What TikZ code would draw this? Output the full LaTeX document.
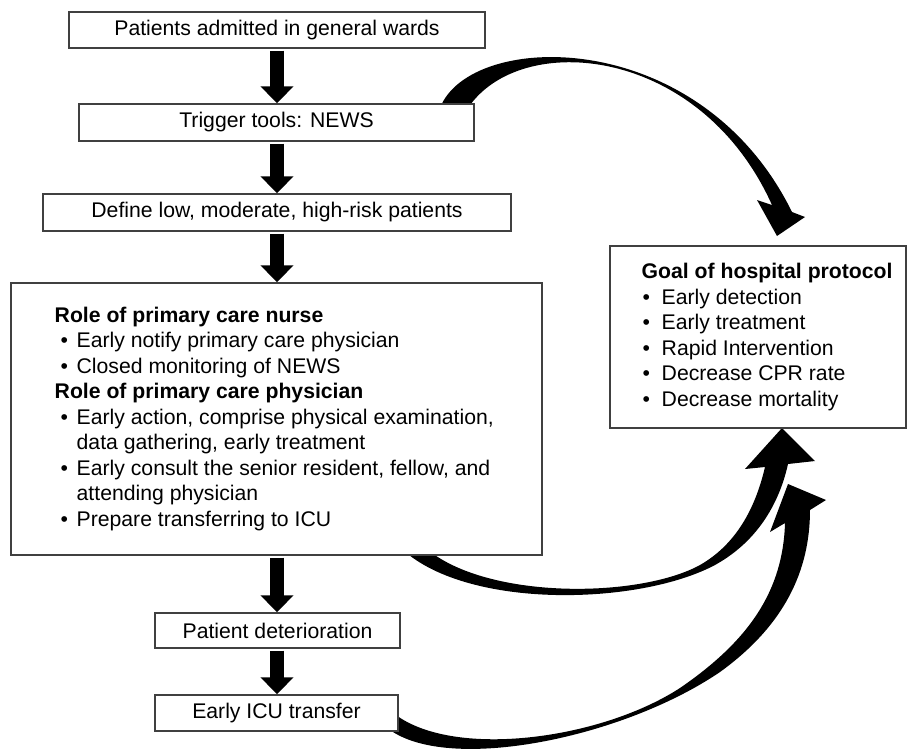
\documentclass[tikz,border=0pt]{standalone}
\usepackage{fontspec}
\setmainfont{Liberation Sans}
\usetikzlibrary{arrows.meta}
\newcommand\bul{\makebox[11pt][l]{\hspace{3pt}\textbullet}}
\newcommand\gbul{\makebox[10pt][l]{\hspace{0.5pt}\textbullet}}
\begin{document}
\begin{tikzpicture}[x=0.5pt,y=-0.5pt,
  box/.style={draw=black!75, line width=0.7pt, fill=white, inner sep=0pt},
  blockarrow/.style={line width=7pt, -{Triangle[width=16pt,length=8.5pt]}, shorten <=1pt},
  curvearrow/.style={fill=black, draw=none},
  txt/.style={anchor=west, inner sep=0pt, align=left},
  every node/.style={font=\fontsize{10.6}{12.75}\selectfont}
]
\useasboundingbox (0,0) rectangle (912,756);
\fill[white] (0,0) rectangle (912,756);

% curved arrows (drawn first so the boxes cover their roots)
\fill[curvearrow] (440,108) .. controls (470,30) and (700,25) .. (792,212)
  -- (805,217) -- (777,236) -- (757,200) -- (772,205)
  .. controls (700,45) and (520,30) .. (468,108) -- cycle;
\fill[curvearrow] (403,550) .. controls (470,610) and (640,605) .. (715,565)
  .. controls (760,540) and (780,500) .. (788,464)
  -- (815,461) -- (782,428) -- (745,469) -- (765,467)
  .. controls (755,510) and (735,545) .. (700,565)
  .. controls (640,598) and (490,600) .. (428,550) -- cycle;
\fill[curvearrow] (385,726) .. controls (440,775) and (620,740) .. (720,672)
  .. controls (785,625) and (810,570) .. (810,510)
  -- (826,500) -- (788,484) -- (770,532) -- (785,523)
  .. controls (783,590) and (750,640) .. (680,688)
  .. controls (600,740) and (450,760) .. (392,712) -- cycle;

% boxes
\node[box, minimum width=208pt, minimum height=18pt] (b1) at (277,30) {Patients admitted in general wards};
\node[box, minimum width=197.5pt, minimum height=18.5pt] (b2) at (276.5,122.5) {Trigger tools: NEWS};
\node[box, minimum width=234pt, minimum height=18.5pt] (b3) at (277,212.5) {Define low, moderate, high-risk patients};
\node[box, minimum width=265.5pt, minimum height=136pt] (big) at (276.5,419) {};
\node[txt] (bigtext) at ([xshift=22pt]big.west) {\parbox{235pt}{%
\textbf{Role of primary care nurse}\\
\bul Early notify primary care physician\\
\bul Closed monitoring of NEWS\\
\textbf{Role of primary care physician}\\
\bul Early action, comprise physical examination,\\
\hspace*{11pt}data gathering, early treatment\\
\bul Early consult the senior resident, fellow, and\\
\hspace*{11pt}attending physician\\
\bul Prepare transferring to ICU}};
\node[box, minimum width=122.5pt, minimum height=17.5pt] (b5) at (277.5,630.5) {Patient deterioration};
\node[box, minimum width=121.5pt, minimum height=18pt] (b6) at (276.5,713) {Early ICU transfer};
\node[box, minimum width=148pt, minimum height=91pt] (goal) at (758,337) {};
\node[txt] (goaltext) at ([xshift=16pt]goal.west) {\parbox{140pt}{%
\textbf{Goal of hospital protocol}\\
\gbul Early detection\\
\gbul Early treatment\\
\gbul Rapid Intervention\\
\gbul Decrease CPR rate\\
\gbul Decrease mortality}};

% straight block arrows
\draw[blockarrow] (b1.south) -- (b1.south |- b2.north);
\draw[blockarrow] (b2.south -| b1.south) -- (b1.south |- b3.north);
\draw[blockarrow] (b3.south) -- (b3.south |- big.north);
\draw[blockarrow] (big.south -| b3.south) -- (b3.south |- b5.north);
\draw[blockarrow] (b5.south -| b3.south) -- (b3.south |- b6.north);
\end{tikzpicture}
\end{document}
